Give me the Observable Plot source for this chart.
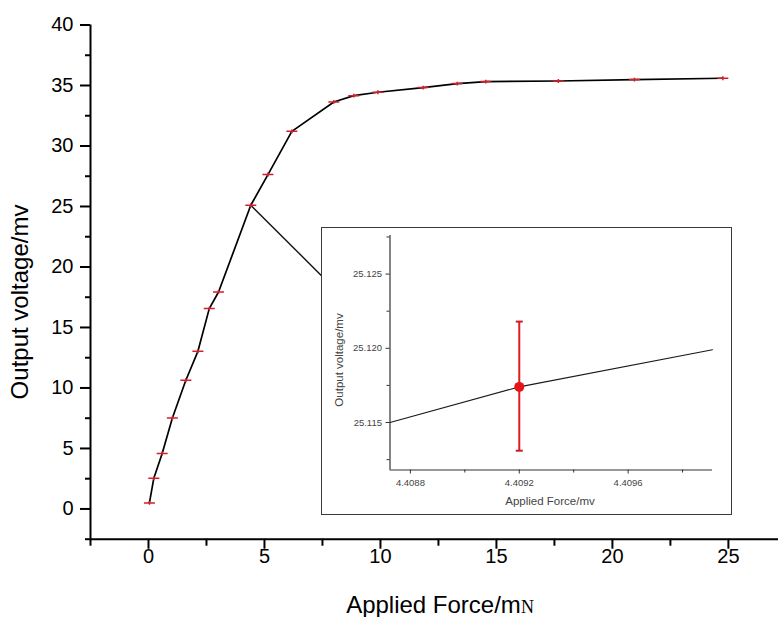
<!DOCTYPE html>
<html>
<head>
<meta charset="utf-8">
<script src="https://cdn.jsdelivr.net/npm/d3@7"></script>
<script src="https://cdn.jsdelivr.net/npm/@observablehq/plot@0.6"></script>
<style>
  html, body { margin: 0; padding: 0; background: #fff; }
  #wrap { position: relative; width: 778px; height: 617px; overflow: hidden; background: #fff; }
  #inset { position: absolute; left: 321px; top: 227px; border: 1px solid #3a3a3a; background: #fff; line-height: 0; }
</style>
</head>
<body>
<div id="wrap"><div id="inset"></div></div>
<script>
// ---- main chart data ----
const forceX   = [0.04, 0.23, 0.59, 1.03, 1.61, 2.13, 2.62, 3.02, 4.41, 5.15, 6.18, 7.99, 8.85, 9.89, 11.84, 13.31, 14.54, 17.67, 20.95, 24.76];
const voltageY = [0.5, 2.54, 4.58, 7.52, 10.64, 13.03, 16.56, 17.93, 25.1, 27.64, 31.21, 33.64, 34.16, 34.44, 34.83, 35.16, 35.32, 35.37, 35.49, 35.6];
const xMajorTicks = [0, 5, 10, 15, 20, 25];
const xMinorTicks = [-2.5, 2.5, 7.5, 12.5, 17.5, 22.5];
const yMajorTicks = [0, 5, 10, 15, 20, 25, 30, 35, 40];
const yMinorTicks = [-2.5, 2.5, 7.5, 12.5, 17.5, 22.5, 27.5, 32.5, 37.5];
// connector from zoomed point to inset box edge (data units of main chart)
const connectorFrom = [4.41, 25.1];
const connectorTo   = [7.47, 19.26];

// ---- inset data ----
const insetLineX = [4.408725, 4.4092, 4.40991];
const insetLineY = [25.1150, 25.1174, 25.1199];
const insetPointX = [4.4092];
const insetPointY = [25.1174];
const insetErrLow = [25.1131];
const insetErrHigh = [25.1218];
const insetXMajor = [4.4088, 4.4092, 4.4096];
const insetXMinor = [4.4090, 4.4094, 4.4098];
const insetYMajor = [25.115, 25.120, 25.125];
const insetYMinor = [25.1125, 25.1175, 25.1225, 25.1275];

const mainData = forceX.map((x, i) => ({x, y: voltageY[i]}));
const insetLine = insetLineX.map((x, i) => ({x, y: insetLineY[i]}));
const insetPts = insetPointX.map((x, i) => ({x, y: insetPointY[i], lo: insetErrLow[i], hi: insetErrHigh[i]}));
const connector = [{x1: connectorFrom[0], y1: connectorFrom[1], x2: connectorTo[0], y2: connectorTo[1]}];

const errMark = {
  draw(ctx, size) {
    const r = Math.sqrt(size / Math.PI);
    ctx.moveTo(-r, 0); ctx.lineTo(r, 0);
    ctx.moveTo(0, -r * 0.35); ctx.lineTo(0, r * 0.35);
  }
};
const capMark = {
  draw(ctx, size) {
    const r = Math.sqrt(size / Math.PI);
    ctx.moveTo(-r, 0); ctx.lineTo(r, 0);
  }
};

const font = "'Liberation Sans', Arial, sans-serif";

const main = Plot.plot({
  width: 778, height: 617,
  marginLeft: 90, marginRight: 0, marginTop: 24.5, marginBottom: 78.3,
  x: {domain: [-2.5, 27.16]},
  y: {domain: [-2.5, 40]},
  style: {fontFamily: font, background: "white", color: "black", overflow: "visible"},
  marks: [
    Plot.axisX(xMajorTicks, {tickSize: 10, tickPadding: 0, fontSize: 20, strokeWidth: 2, tickFormat: d => String(d), label: null}),
    Plot.axisX(xMinorTicks, {tickSize: 7, text: null, strokeWidth: 2, label: null}),
    Plot.axisY(yMajorTicks, {tickSize: 10, tickPadding: 7, fontSize: 20, strokeWidth: 2, tickFormat: d => String(d), label: null}),
    Plot.axisY(yMinorTicks, {tickSize: 5, text: null, strokeWidth: 2, label: null}),
    Plot.ruleY([-2.5], {stroke: "black", strokeWidth: 2}),
    Plot.ruleX([-2.5], {stroke: "black", strokeWidth: 2}),
    Plot.link(connector, {x1: "x1", y1: "y1", x2: "x2", y2: "y2", stroke: "#111", strokeWidth: 1.4}),
    Plot.line(mainData, {x: "x", y: "y", curve: "linear", stroke: "black", strokeWidth: 1.7}),
    Plot.dot(mainData, {x: "x", y: "y", symbol: errMark, r: 5.5, stroke: "#d0202c", fill: "none", strokeWidth: 1.5})
  ]
});
document.getElementById("wrap").insertBefore(main, document.getElementById("inset"));

const msvg = d3.select(main);
msvg.append("text")
  .attr("transform", "translate(28,302) rotate(-90)")
  .attr("text-anchor", "middle")
  .attr("font-family", font)
  .attr("font-size", 24)
  .attr("fill", "black")
  .text("Output voltage/mv");
const xt = msvg.append("text")
  .attr("x", 440).attr("y", 613)
  .attr("text-anchor", "middle")
  .attr("font-family", font)
  .attr("font-size", 24)
  .attr("fill", "black");
xt.append("tspan").text("Applied Force/m");
xt.append("tspan").attr("font-family", "'Liberation Serif', 'Times New Roman', serif").attr("font-size", 18).text("N");

// ---- inset ----
const insetColor = "#444";
const inset = Plot.plot({
  width: 409, height: 286,
  marginLeft: 67.5, marginRight: 19, marginTop: 7, marginBottom: 44.5,
  x: {domain: [4.408725, 4.40991]},
  y: {domain: [25.1118, 25.1276]},
  style: {fontFamily: font, background: "white", color: insetColor, overflow: "visible"},
  marks: [
    Plot.axisX(insetXMajor, {tickSize: 4, tickPadding: 5, fontSize: 9.5, tickFormat: d3.format(".4f"), label: null, stroke: "#333"}),
    Plot.axisX(insetXMinor, {tickSize: 3, text: null, label: null, stroke: "#333"}),
    Plot.axisY(insetYMajor, {tickSize: 4, tickPadding: 4, fontSize: 9.5, tickFormat: d3.format(".3f"), label: null, stroke: "#333"}),
    Plot.axisY(insetYMinor, {tickSize: 3, text: null, label: null, stroke: "#333"}),
    Plot.ruleY([25.1118], {stroke: "#333", strokeWidth: 1.2}),
    Plot.ruleX([4.408725], {stroke: "#333", strokeWidth: 1.2}),
    Plot.line(insetLine, {x: "x", y: "y", stroke: "#1a1a1a", strokeWidth: 1.1}),
    Plot.ruleX(insetPts, {x: "x", y1: "lo", y2: "hi", stroke: "#e01b22", strokeWidth: 2}),
    Plot.dot(insetPts, {x: "x", y: "lo", symbol: capMark, r: 3.5, stroke: "#c8202a", fill: "none", strokeWidth: 2}),
    Plot.dot(insetPts, {x: "x", y: "hi", symbol: capMark, r: 3.5, stroke: "#c8202a", fill: "none", strokeWidth: 2}),
    Plot.dot(insetPts, {x: "x", y: "y", r: 5, fill: "#e3151b", stroke: "none"})
  ]
});
document.getElementById("inset").appendChild(inset);
const isvg = d3.select(inset);
isvg.append("text")
  .attr("transform", "translate(21,132) rotate(-90)")
  .attr("text-anchor", "middle")
  .attr("font-family", font)
  .attr("font-size", 11.5)
  .attr("fill", insetColor)
  .text("Output voltage/mv");
isvg.append("text")
  .attr("x", 228).attr("y", 277)
  .attr("text-anchor", "middle")
  .attr("font-family", font)
  .attr("font-size", 11.5)
  .attr("fill", insetColor)
  .text("Applied Force/mv");
</script>
</body>
</html>
